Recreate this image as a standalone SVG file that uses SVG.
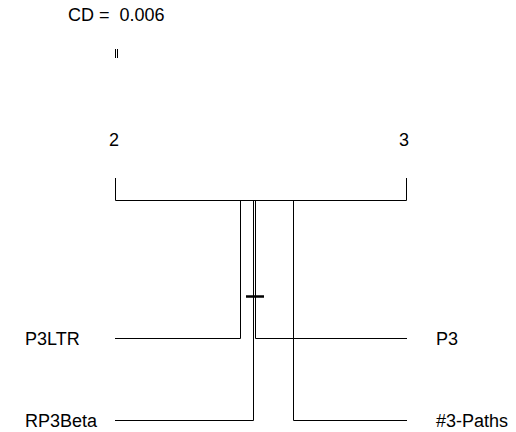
<svg xmlns="http://www.w3.org/2000/svg" width="516" height="432" viewBox="0 0 516 432">
<style>
text{font-family:"Liberation Sans",Arial,sans-serif;font-size:18px;fill:#000;white-space:pre}
.l{stroke:#000;stroke-width:1;fill:none}
.v{stroke:#333;stroke-width:1.2;fill:none}
</style>
<rect width="516" height="432" fill="#fff"/>
<text x="68" y="21" xml:space="preserve">CD =  0.006</text>
<g id="scale">
<line class="l" x1="115.5" y1="49" x2="115.5" y2="58"/>
<line class="l" x1="117.5" y1="49" x2="117.5" y2="58"/>
</g>
<g id="n2"><text x="109" y="146">2</text></g>
<g id="n3"><text x="399" y="146">3</text></g>
<g id="P3LTR"><text x="25" y="345">P3LTR</text></g>
<g id="P3"><text x="436" y="345">P3</text></g>
<g id="RP3Beta"><text x="25" y="427">RP3Beta</text></g>
<g id="Paths"><text x="436" y="427">#3-Paths</text></g>
<g id="connectors">
<path class="l" d="M115.5,178 V200.5 H406.5 V178"/>
<path class="l" d="M115,338.5 H240.5 V200"/>
<path class="l" d="M115,420.5 H253.5 V200"/>
<path class="l" d="M407,338.5 H255.5 V200"/>
<path class="l" d="M407,420.5 H293.5 V200"/>
<line x1="246" y1="296.5" x2="264" y2="296.5" stroke="#000" stroke-width="2.5"/>
</g>
</svg>
